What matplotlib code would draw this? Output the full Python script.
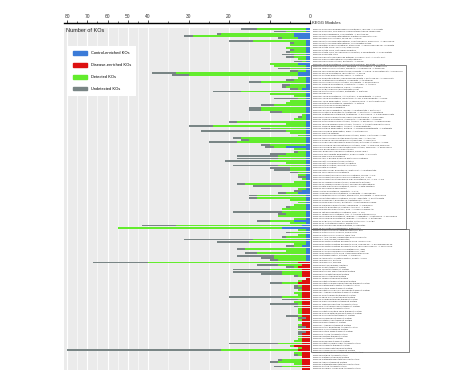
import matplotlib
matplotlib.use("Agg")
import matplotlib.pyplot as plt
import numpy as np
from matplotlib.patches import Patch, Rectangle
from matplotlib.transforms import blended_transform_factory

plt.rcParams['font.family'] = ['Liberation Sans', 'DejaVu Sans']

# KEGG modules, top to bottom
module_labels = [
    "M00001 Glycolysis (Embden-Meyerhof pathway), glucose => pyruvate",
    "M00002 Glycolysis, core module involving three-carbon compounds",
    "M00003 Gluconeogenesis, oxaloacetate => fructose-6P",
    "M00004 Pentose phosphate pathway (Pentose phosphate cycle)",
    "M00005 PRPP biosynthesis, ribose 5P => PRPP",
    "M00006 Pentose phosphate pathway, oxidative phase, glucose 6P => ribulose 5P",
    "M00007 Pentose phosphate pathway, non-oxidative phase",
    "M00008 Entner-Doudoroff pathway, glucose-6P => glyceraldehyde-3P + pyruvate",
    "M00009 Citrate cycle (TCA cycle, Krebs cycle)",
    "M00010 Citrate cycle, first carbon oxidation",
    "M00011 Citrate cycle, second carbon oxidation, 2-oxoglutarate => oxaloacetate",
    "M00012 Glyoxylate cycle",
    "M00013 Malonate semialdehyde pathway, propanoyl-CoA => acetyl-CoA",
    "M00014 Glucuronate pathway (uronate pathway)",
    "M00015 Proline biosynthesis, glutamate => proline",
    "M00016 Lysine biosynthesis, succinyl-DAP pathway, aspartate => lysine",
    "M00017 Methionine biosynthesis, aspartate => homoserine => methionine",
    "M00018 Threonine biosynthesis, aspartate => homoserine => threonine",
    "M00019 Valine/isoleucine biosynthesis, pyruvate => valine / 2-oxobutanoate => isoleucine",
    "M00020 Serine biosynthesis, glycerate-3P => serine",
    "M00021 Cysteine biosynthesis, serine => cysteine",
    "M00022 Shikimate pathway, phosphoenolpyruvate + erythrose-4P => chorismate",
    "M00023 Tryptophan biosynthesis, chorismate => tryptophan",
    "M00024 Phenylalanine biosynthesis, chorismate => phenylalanine",
    "M00025 Tyrosine biosynthesis, chorismate => HPP => tyrosine",
    "M00026 Histidine biosynthesis, PRPP => histidine",
    "M00027 GABA (gamma-Aminobutyrate) shunt",
    "M00028 Ornithine biosynthesis, glutamate => ornithine",
    "M00029 Urea cycle",
    "M00030 Lysine biosynthesis, AAA pathway, 2-oxoglutarate => lysine",
    "M00031 Lysine biosynthesis, mediated by LysW, 2-aminoadipate => lysine",
    "M00032 Lysine degradation, lysine => saccharopine => acetoacetyl-CoA",
    "M00033 Ectoine biosynthesis, aspartate => ectoine",
    "M00034 Methionine salvage pathway",
    "M00035 Methionine degradation",
    "M00036 Leucine degradation, leucine => acetoacetate + acetyl-CoA",
    "M00037 Melatonin biosynthesis, tryptophan => serotonin => melatonin",
    "M00038 Tryptophan metabolism, tryptophan => kynurenine => 2-aminomuconate",
    "M00039 Monolignol biosynthesis, phenylalanine/tyrosine => monolignol",
    "M00040 Tyrosine biosynthesis, chorismate => arogenate => tyrosine",
    "M00042 Catecholamine biosynthesis, tyrosine => dopamine => noradrenaline",
    "M00043 Thyroid hormone biosynthesis, tyrosine => triiodothyronine/thyroxine",
    "M00044 Tyrosine degradation, tyrosine => homogentisate",
    "M00045 Histidine degradation, histidine => N-formiminoglutamate => glutamate",
    "M00046 Pyrimidine degradation, uracil => beta-alanine",
    "M00047 Creatine pathway",
    "M00048 Inosine monophosphate biosynthesis, PRPP + glutamine => IMP",
    "M00049 Adenine ribonucleotide biosynthesis, IMP => ADP,ATP",
    "M00050 Guanine ribonucleotide biosynthesis IMP => GDP,GTP",
    "M00051 Uridine monophosphate biosynthesis, glutamine (+ PRPP) => UMP",
    "M00052 Pyrimidine ribonucleotide biosynthesis, UMP => UDP/UTP,CDP/CTP",
    "M00053 Pyrimidine deoxyribonuleotide biosynthesis, CDP/CTP => dCDP/dCTP",
    "M00055 N-glycan precursor biosynthesis",
    "M00060 Lipopolysaccharide biosynthesis, KDO2-lipid A",
    "M00061 D-Glucuronate degradation, D-glucuronate => pyruvate",
    "M00063 CMP-KDO biosynthesis",
    "M00064 ADP-L-glycero-D-manno-heptose biosynthesis",
    "M00082 Fatty acid biosynthesis, initiation",
    "M00083 Fatty acid biosynthesis, elongation",
    "M00086 beta-Oxidation, acyl-CoA synthesis",
    "M00087 beta-Oxidation",
    "M00088 Ketone body biosynthesis, acetyl-CoA => acetoacetate",
    "M00089 Triacylglycerol biosynthesis",
    "M00090 Phosphatidylcholine (PC) biosynthesis, choline => PC",
    "M00091 Phosphatidylcholine (PC) biosynthesis, PE => PC",
    "M00093 Phosphatidylethanolamine (PE) biosynthesis, PA => PS => PE",
    "M00095 C5 isoprenoid biosynthesis, mevalonate pathway",
    "M00096 C5 isoprenoid biosynthesis, non-mevalonate pathway",
    "M00097 beta-Carotene biosynthesis, GGAP => beta-carotene",
    "M00100 Sphingosine degradation",
    "M00115 NAD biosynthesis, aspartate => NAD",
    "M00116 Menaquinone biosynthesis, chorismate => menaquinol",
    "M00117 Ubiquinone biosynthesis, prokaryotes, chorismate => ubiquinone",
    "M00119 Pantothenate biosynthesis, valine/L-aspartate => pantothenate",
    "M00120 Coenzyme A biosynthesis, pantothenate => CoA",
    "M00121 Heme biosynthesis, glutamate => protoheme/siroheme",
    "M00122 Cobalamin biosynthesis, cobinamide => cobalamin",
    "M00123 Biotin biosynthesis, pimeloyl-ACP/CoA => biotin",
    "M00125 Riboflavin biosynthesis, GTP => riboflavin/FMN/FAD",
    "M00126 Tetrahydrofolate biosynthesis, GTP => THF",
    "M00127 Thiamine biosynthesis, AIR => thiamine-P/thiamine-2P",
    "M00133 Polyamine biosynthesis, arginine => agmatine => putrescine => spermidine",
    "M00134 Polyamine biosynthesis, arginine => ornithine => putrescine",
    "M00135 GABA biosynthesis, eukaryotes, putrescine => GABA",
    "M00140 C1-unit interconversion, prokaryotes",
    "M00144 NADH:quinone oxidoreductase, prokaryotes",
    "M00149 Succinate dehydrogenase, prokaryotes",
    "M00151 Cytochrome bc1 complex respiratory unit",
    "M00155 Cytochrome c oxidase, prokaryotes",
    "M00156 Cytochrome c oxidase, cbb3-type",
    "M00157 F-type ATPase, prokaryotes and chloroplasts",
    "M00159 V-type ATPase, prokaryotes",
    "M00165 Reductive pentose phosphate cycle (Calvin cycle)",
    "M00166 Reductive pentose phosphate cycle, ribulose-5P => glyceraldehyde-3P",
    "M00167 Reductive pentose phosphate cycle, glyceraldehyde-3P => ribulose-5P",
    "M00168 CAM (Crassulacean acid metabolism), dark",
    "M00169 CAM (Crassulacean acid metabolism), light",
    "M00173 Reductive citrate cycle (Arnon-Buchanan cycle)",
    "M00175 Nitrogen fixation, nitrogen => ammonia",
    "M00176 Assimilatory sulfate reduction, sulfate => H2S",
    "M00178 Ribosome, bacteria",
    "M00179 Ribosome, archaea",
    "M00183 RNA polymerase, bacteria",
    "M00185 Sulfate transport system",
    "M00186 Tungstate transport system",
    "M00188 NitT/TauT family transport system",
    "M00189 Molybdate transport system",
    "M00190 Iron(III) transport system",
    "M00191 Thiamine transport system",
    "M00192 Putative thiamine transport system",
    "M00193 Putative spermidine/putrescine transport system",
    "M00194 Maltose/maltodextrin transport system",
    "M00196 Multiple sugar transport system",
    "M00198 Putative sn-glycerol-phosphate transport system",
    "M00199 L-Arabinose/lactose transport system",
    "M00200 Sorbitol/mannitol transport system",
    "M00201 alpha-Glucoside transport system",
    "M00202 Oligogalacturonide transport system",
    "M00203 Glucose/mannose transport system",
    "M00204 Trehalose/maltose transport system",
    "M00205 N-Acetylglucosamine transport system",
    "M00206 Cellobiose transport system",
    "M00207 Putative multiple sugar transport system",
    "M00208 Glycine betaine/proline transport system",
    "M00209 Osmoprotectant transport system",
    "M00210 Phospholipid transport system",
    "M00211 Putative ABC transport system",
    "M00212 Ribose transport system",
    "M00213 L-Arabinose transport system",
    "M00214 Methyl-galactoside transport system",
    "M00215 D-Xylose transport system",
    "M00216 Multiple sugar transport system",
    "M00217 D-Allose transport system",
    "M00218 Fructose transport system",
    "M00219 AI-2 transport system",
    "M00220 Rhamnose transport system",
    "M00221 Putative simple sugar transport system",
    "M00222 Phosphate transport system",
    "M00223 Phosphonate transport system",
    "M00224 Fluoroquinolone transport system",
    "M00225 Lysine/arginine/ornithine transport system",
    "M00226 Histidine transport system",
    "M00227 Glutamine transport system",
    "M00228 Glutamate/aspartate transport system",
    "M00229 Arginine transport system",
    "M00230 Glutamate/aspartate transport system",
    "M00231 Cystine transport system",
    "M00232 General L-amino acid transport system",
]

# enriched KOs (blue = control, red = disease)
enriched_kos = [
    1, 1, 4, 4, 3, 1, 1, 1, 1, 1,
    1, 1, 1, 1, 1, 3, 1, 1, 1, 3,
    3, 1, 1, 1, 1, 1, 2, 1, 1, 1,
    1, 1, 1, 1, 1, 1, 1, 1, 1, 1,
    1, 1, 1, 1, 1, 1, 1, 1, 1, 1,
    1, 6, 1, 1, 1, 1, 1, 1, 1, 1,
    1, 1, 1, 1, 1, 1, 1, 1, 1, 1,
    2, 3, 1, 1, 1, 1, 1, 1, 1, 1,
    1, 1, 1, 4, 1, 2, 7, 1, 1, 1,
    1, 1, 1, 1, 2, 1, 1, 1, 1, 1,
    1, 3, 2, 3, 2, 2, 2, 2, 1, 2,
    3, 2, 2, 2, 2, 2, 2, 2, 2, 2,
    2, 2, 2, 2, 2, 1, 2, 2, 2, 1,
    2, 1, 2, 2, 2, 2, 2, 4, 2, 3,
    2, 2, 2, 2, 2, 2, 2, 2,
]
# detected KOs (cumulative, includes enriched)
detected_kos = [
    13, 6, 22, 29, 7, 14, 4, 5, 6, 4,
    5, 4, 4, 3, 2, 10, 9, 5, 3, 33,
    30, 3, 4, 12, 5, 6, 3, 17, 10, 4,
    3, 5, 6, 9, 12, 12, 7, 2, 2, 4,
    18, 6, 24, 10, 6, 5, 3, 17, 15, 18,
    10, 9, 4, 3, 6, 8, 8, 10, 6, 8,
    5, 5, 3, 3, 1, 2, 4, 16, 7, 3,
    2, 6, 13, 13, 5, 3, 4, 5, 7, 7,
    6, 8, 4, 10, 5, 33, 55, 3, 5, 3,
    6, 14, 15, 4, 4, 16, 6, 13, 9, 9,
    8, 40, 8, 4, 10, 7, 7, 3, 1, 3,
    7, 3, 2, 3, 4, 3, 7, 3, 4, 3,
    3, 3, 3, 3, 3, 1, 3, 2, 3, 1,
    3, 1, 2, 3, 3, 4, 8, 5, 3, 22,
    4, 3, 2, 7, 8, 4, 7, 2,
]
# all KOs in the module (detected + undetected)
total_kos = [
    17, 9, 23, 31, 8, 20, 5, 5, 6, 5,
    6, 7, 6, 3, 4, 10, 9, 8, 5, 39,
    34, 3, 6, 15, 7, 7, 5, 24, 10, 4,
    9, 5, 6, 12, 15, 15, 10, 2, 3, 4,
    20, 6, 30, 12, 27, 5, 3, 19, 17, 25,
    12, 11, 4, 4, 10, 18, 18, 21, 6, 19,
    10, 9, 5, 3, 3, 2, 4, 18, 14, 3,
    4, 8, 15, 15, 5, 3, 4, 6, 7, 19,
    8, 8, 4, 13, 5, 43, 55, 3, 6, 3,
    7, 31, 23, 4, 6, 18, 6, 16, 18, 12,
    10, 67, 13, 6, 19, 19, 12, 4, 1, 3,
    10, 4, 4, 3, 4, 3, 20, 7, 4, 10,
    4, 3, 3, 3, 6, 3, 3, 2, 3, 3,
    3, 3, 3, 3, 3, 4, 20, 5, 3, 80,
    4, 4, 2, 8, 10, 4, 9, 2,
]
enriched_in = ["Control"] * 101 + ["Disease"] * 47

x_ticks = [80, 70, 60, 50, 40, 30, 20, 10, 0]
x_minor = [75, 65, 55, 45, 35, 25, 15, 5]
legend_labels = ["Control-enriched KOs", "Disease-enriched KOs",
                 "Detected KOs", "Undetected KOs"]

BLUE = "#3b7bd8"
RED = "#dd1010"
GREEN = "#63ec2d"
GREY = "#798585"
PANEL = "#ebebeb"


# axis is squeezed by half beyond 40
def fwd(v):
    v = np.asarray(v, dtype=float)
    return np.where(v <= 40, v, 40 + (v - 40) / 2)


def inv(u):
    u = np.asarray(u, dtype=float)
    return np.where(u <= 40, u, 40 + (u - 40) * 2)


W, H = 474, 381
fig = plt.figure(figsize=(W / 100, H / 100), dpi=100)
ax = fig.add_axes([64 / W, 11 / H, 246 / W, 342 / H])
ax.set_facecolor(PANEL)
ax.set_xscale('function', functions=(fwd, inv))

rows = np.arange(len(module_labels))
ax.barh(rows, total_kos, height=0.8, color=GREY, zorder=2)
ax.barh(rows, detected_kos, height=0.8, color=GREEN, zorder=3)
enr_colors = [BLUE if g == "Control" else RED for g in enriched_in]
ax.barh(rows, enriched_kos, height=0.8, color=enr_colors, zorder=4)

ax.set_xlim(81.5, 0)
ax.set_ylim(len(rows) - 0.5, -0.5)

# top axis
ax.xaxis.tick_top()
ax.set_xticks(x_ticks)
ax.set_xticks(x_minor, minor=True)
ax.set_xticklabels([str(t) for t in x_ticks])
ax.tick_params(axis='x', which='major', labelsize=3.5, length=2, width=0.6, pad=1, colors='#333333')
ax.tick_params(axis='x', which='minor', length=1.5, width=0.5, colors='#333333')
ax.grid(which='major', axis='x', color='white', lw=0.8)
ax.grid(which='minor', axis='x', color='white', lw=0.4)
ax.set_axisbelow(True)
for s in ['bottom', 'left', 'right']:
    ax.spines[s].set_visible(False)
ax.spines['top'].set_position(('outward', 3.6))
ax.spines['top'].set_linewidth(1.0)

# module names on the right
ax.yaxis.tick_right()
ax.set_yticks(rows)
ax.set_yticklabels(module_labels, fontsize=1.6, color='#333333')
ax.tick_params(axis='y', length=0, pad=2)

fig.text(66 / W, 1 - 31 / H, "Number of KOs", fontsize=4, va='center', ha='left', color='#222222')
fig.text(312 / W, 1 - 23 / H, "KEGG Modules", fontsize=3, va='center', ha='left', color='#222222')

handles = [Patch(color=c, label=l) for c, l in zip([BLUE, RED, GREEN, GREY], legend_labels)]
fig.legend(handles=handles, loc='upper left', bbox_to_anchor=(68 / W, 1 - 46 / H),
           fontsize=2.9, frameon=True, facecolor='white', edgecolor='none', fancybox=False,
           framealpha=1, handlelength=3.3, handleheight=1.0, handletextpad=1.0,
           labelspacing=1.9, borderpad=1.3, borderaxespad=0)

# boxes around module groups
trans = blended_transform_factory(fig.transFigure, ax.transData)
fig.add_artist(Rectangle((311 / W, 15.5), 95 / W, 71, transform=trans, fill=False,
                         lw=0.5, ec='#555555', clip_on=False))
fig.add_artist(Rectangle((311 / W, 86.5), 98 / W, 53, transform=trans, fill=False,
                         lw=0.5, ec='#555555', clip_on=False))

fig.savefig("out.png", dpi=100)
